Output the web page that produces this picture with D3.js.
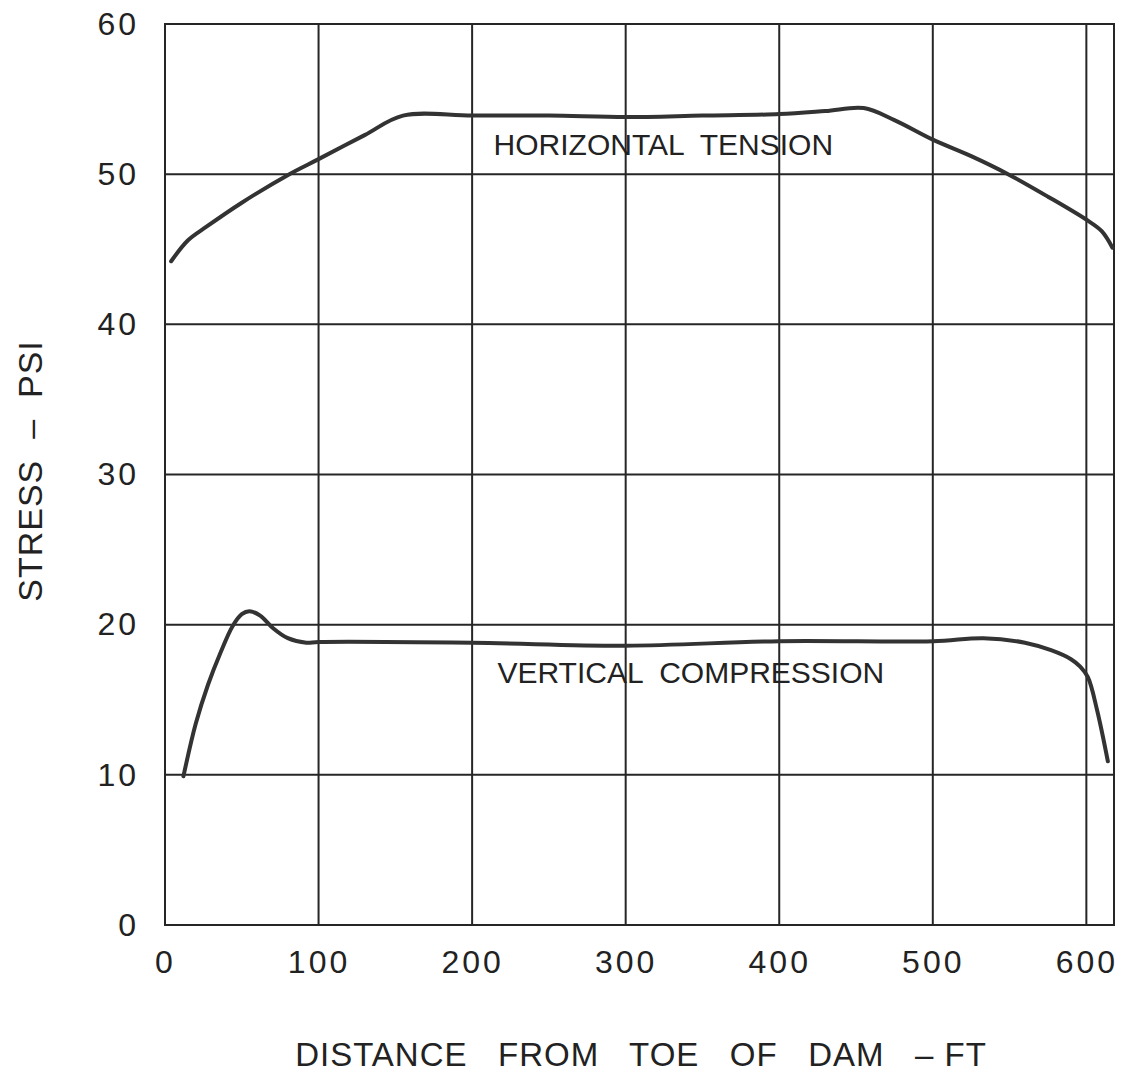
<!DOCTYPE html>
<html>
<head>
<meta charset="utf-8">
<script src="https://cdn.jsdelivr.net/npm/d3@7"></script>
<style>
  html, body { margin: 0; padding: 0; background: #fff; }
  svg { display: block; }
  text { font-family: "Liberation Sans", "DejaVu Sans", sans-serif; fill: #222; }
</style>
</head>
<body>
<svg id="chart" width="1124" height="1074"></svg>
<script>
// Stress along the base of the dam (psi) versus distance from the toe (ft)
const xTicks = [0, 100, 200, 300, 400, 500, 600];
const yTicks = [0, 10, 20, 30, 40, 50, 60];

const tensionDistance = [4, 15, 27, 50, 81, 100, 130, 155, 200, 250, 300, 350, 400, 430, 455, 475, 500, 525, 549, 575, 601, 610, 617];
const tensionStress   = [44.2, 45.6, 46.5, 48.1, 50.0, 51.0, 52.6, 53.9, 53.9, 53.9, 53.8, 53.9, 54.0, 54.2, 54.4, 53.6, 52.3, 51.2, 50.0, 48.5, 46.9, 46.2, 45.1];

const compressionDistance = [12, 20, 28, 36, 44, 50, 55, 62, 70, 80, 92, 100, 200, 300, 400, 500, 533, 560, 577, 590, 596, 601, 607, 614];
const compressionStress   = [9.9, 13.4, 16.0, 18.1, 19.9, 20.7, 20.9, 20.6, 19.8, 19.1, 18.8, 18.85, 18.8, 18.6, 18.9, 18.9, 19.1, 18.8, 18.3, 17.7, 17.2, 16.5, 14.3, 10.9];

const xMax = 618;

const svg = d3.select("#chart");
const plotLeft = 165, plotRight = 1114, plotTop = 24, plotBottom = 925;

const x = d3.scaleLinear().domain([0, xMax]).range([plotLeft, plotRight]);
const y = d3.scaleLinear().domain([0, 60]).range([plotBottom, plotTop]);

const ink = "#262626";

// grid
const grid = svg.append("g");
grid.selectAll("line.v").data(xTicks).join("line")
  .attr("class", "v")
  .attr("x1", d => x(d)).attr("x2", d => x(d))
  .attr("y1", plotTop).attr("y2", plotBottom)
  .attr("stroke", ink).attr("stroke-width", 2);
grid.selectAll("line.h").data(yTicks).join("line")
  .attr("class", "h")
  .attr("x1", plotLeft).attr("x2", plotRight)
  .attr("y1", d => y(d)).attr("y2", d => y(d))
  .attr("stroke", ink).attr("stroke-width", 2);
// frame
svg.append("rect")
  .attr("x", plotLeft).attr("y", plotTop)
  .attr("width", plotRight - plotLeft).attr("height", plotBottom - plotTop)
  .attr("fill", "none").attr("stroke", ink).attr("stroke-width", 2);

// tick labels
const tickFont = "'Liberation Sans', sans-serif";
const xAxis = d3.axisBottom(x).tickValues(xTicks).tickSize(0).tickPadding(25);
const gx = svg.append("g").attr("transform", `translate(0,${plotBottom})`).call(xAxis);
gx.select(".domain").remove();
gx.selectAll("text")
  .style("font-size", "32px").style("letter-spacing", "3px")
  .attr("fill", ink).style("font-family", tickFont);

const yAxis = d3.axisLeft(y).tickValues(yTicks).tickSize(0).tickPadding(26);
const gy = svg.append("g").attr("transform", `translate(${plotLeft},0)`).call(yAxis);
gy.select(".domain").remove();
gy.selectAll("text")
  .style("font-size", "32px").style("letter-spacing", "3px")
  .attr("fill", ink).style("font-family", tickFont);

// curves
const line = d3.line().curve(d3.curveCatmullRom.alpha(0.5));
const tensionPts = tensionDistance.map((d, i) => [x(d), y(tensionStress[i])]);
const compressionPts = compressionDistance.map((d, i) => [x(d), y(compressionStress[i])]);

svg.append("path").attr("d", line(tensionPts))
  .attr("fill", "none").attr("stroke", "#333").attr("stroke-width", 4)
  .attr("stroke-linecap", "round").attr("stroke-linejoin", "round");
svg.append("path").attr("d", line(compressionPts))
  .attr("fill", "none").attr("stroke", "#333").attr("stroke-width", 4)
  .attr("stroke-linecap", "round").attr("stroke-linejoin", "round");

// curve labels
svg.append("text")
  .attr("x", x(214)).attr("y", y(51.3))
  .style("font-size", "30px")
  .attr("xml:space", "preserve")
  .text("HORIZONTAL  TENSION");
svg.append("text")
  .attr("x", x(216.5)).attr("y", y(16.1))
  .style("font-size", "30px")
  .attr("xml:space", "preserve")
  .text("VERTICAL  COMPRESSION");

// axis titles
svg.append("text")
  .attr("x", 641).attr("y", 1066)
  .attr("text-anchor", "middle")
  .style("font-size", "33px").style("letter-spacing", "1px")
  .attr("xml:space", "preserve")
  .text("DISTANCE   FROM   TOE   OF   DAM   – FT");

svg.append("text")
  .attr("transform", "translate(42,471) rotate(-90)")
  .attr("text-anchor", "middle")
  .style("font-size", "34px").style("letter-spacing", "1px")
  .attr("xml:space", "preserve")
  .text("STRESS  –  PSI");
</script>
</body>
</html>
